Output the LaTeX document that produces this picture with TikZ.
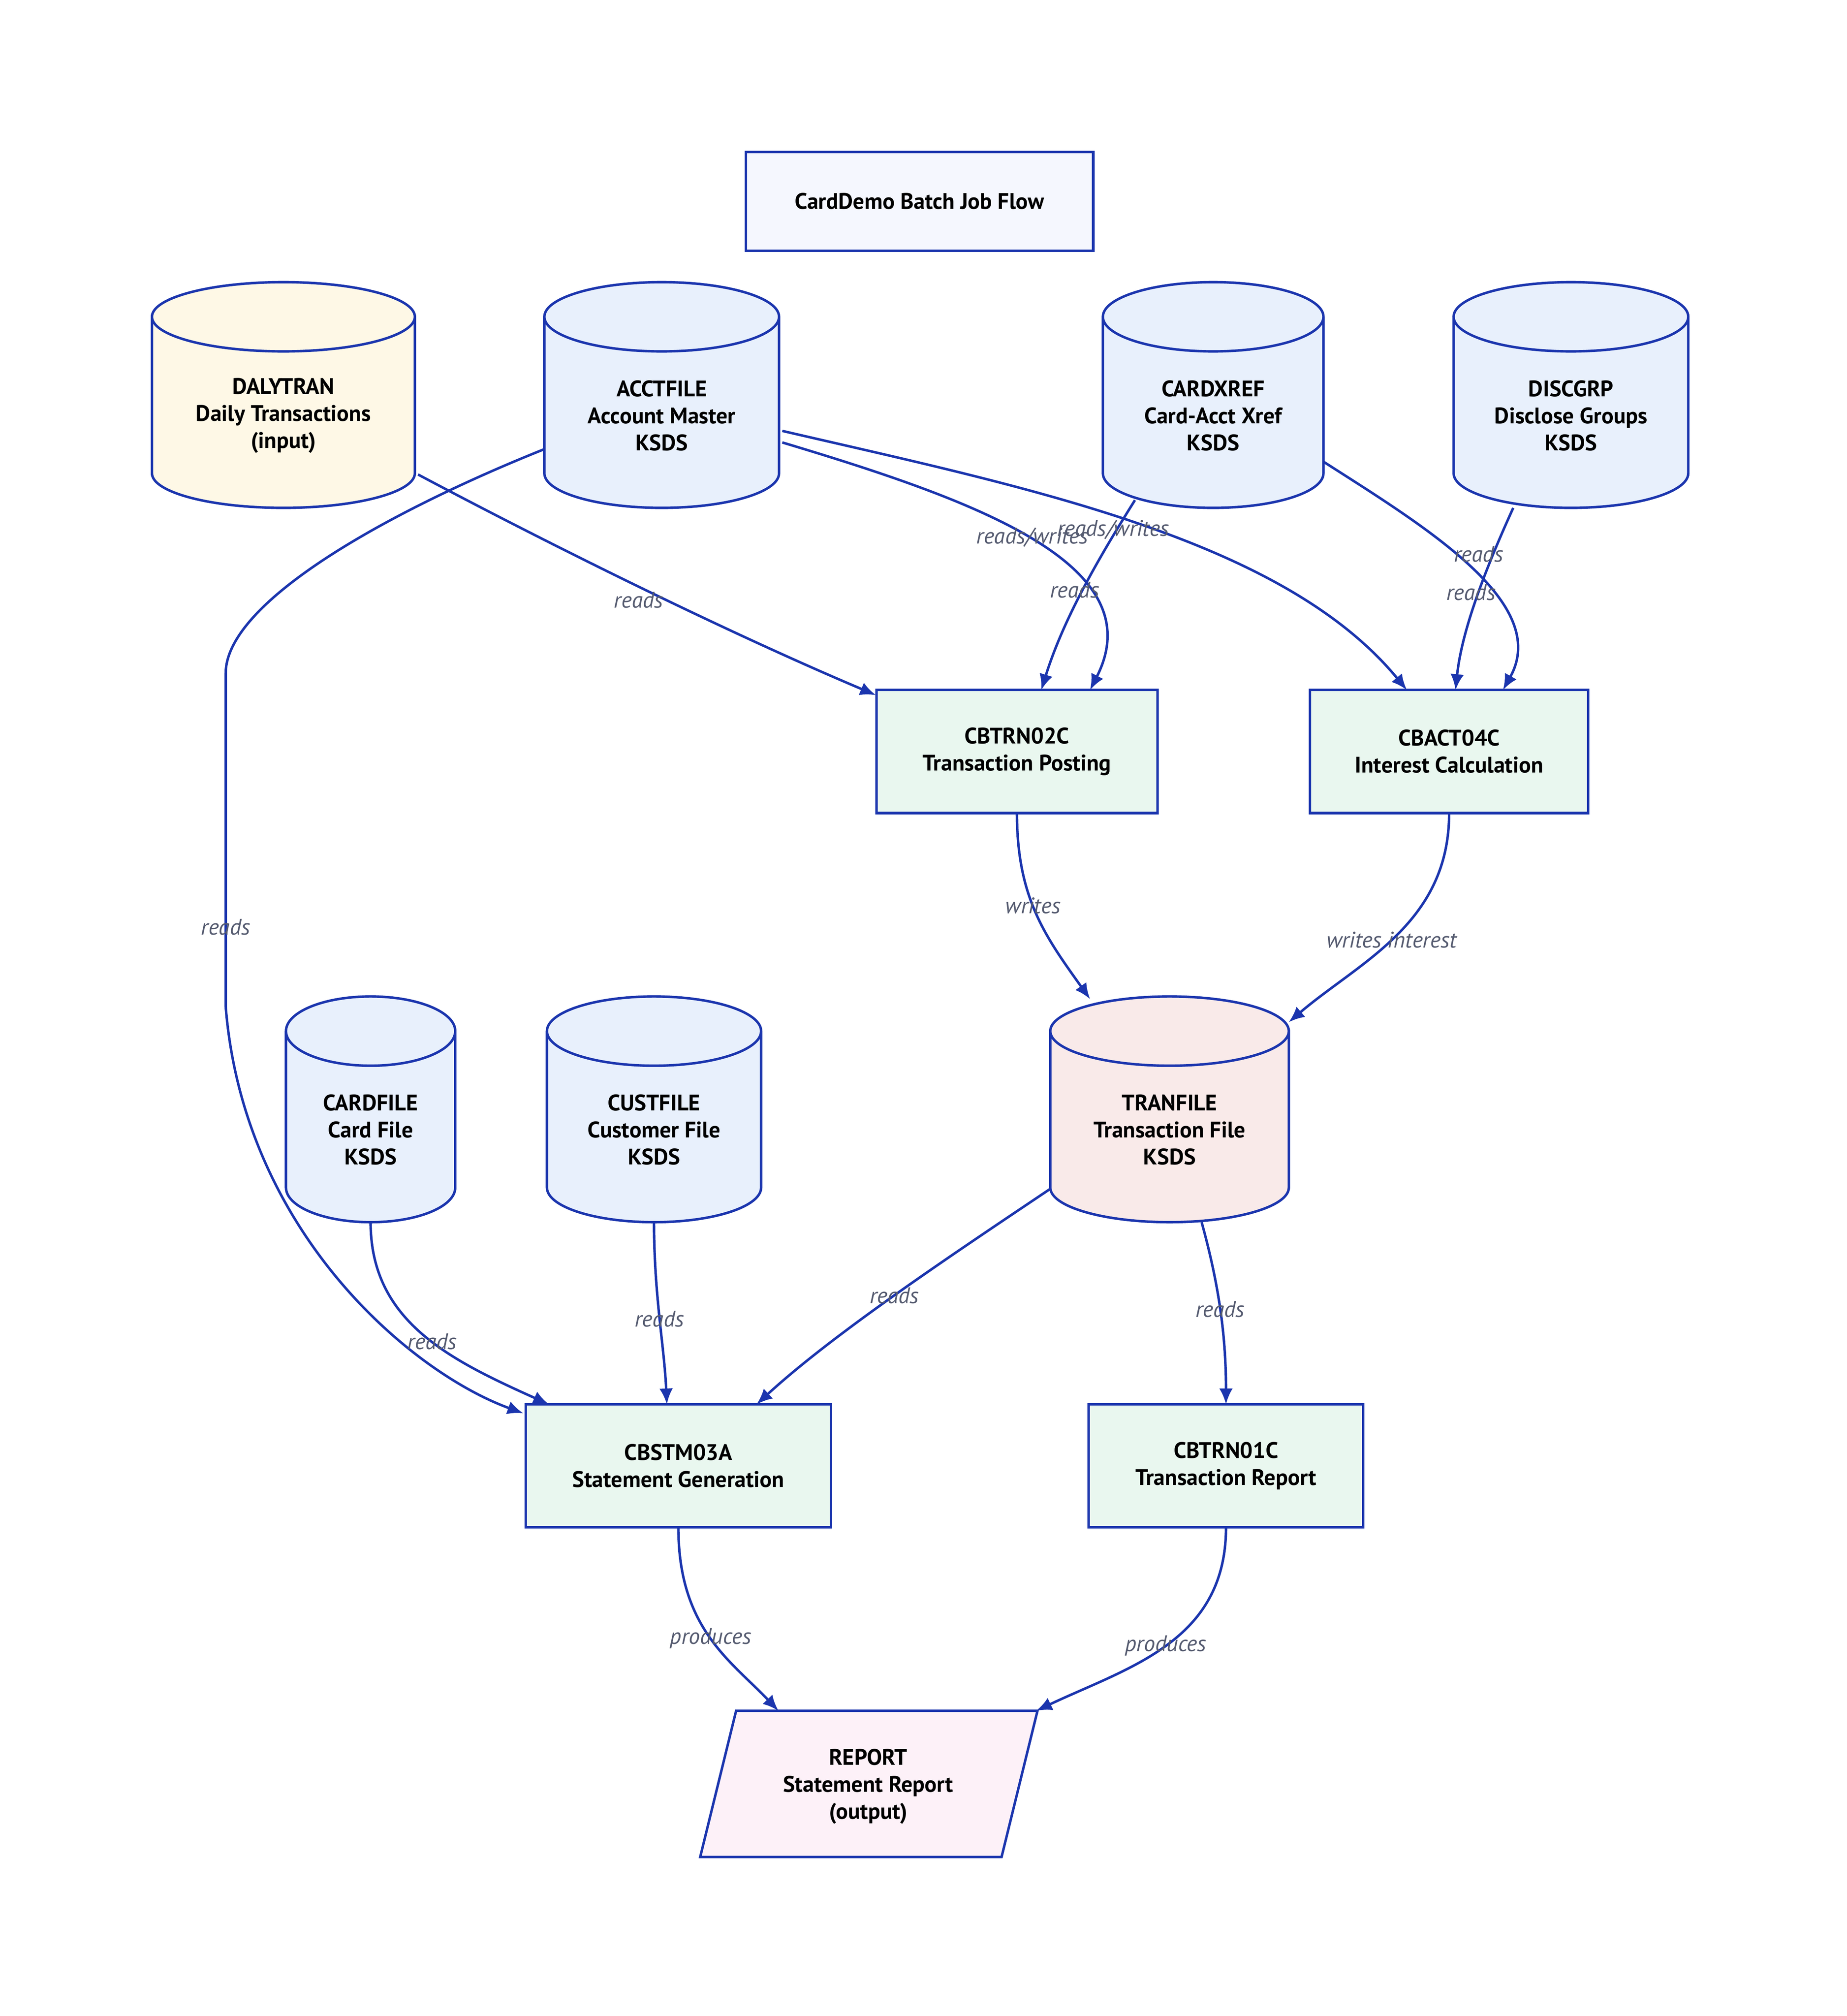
\documentclass[tikz,border=0pt]{standalone}
\usepackage{fontspec}
\setmainfont{PT Sans}
\usetikzlibrary{arrows.meta,calc}
\definecolor{stk}{HTML}{1B35AE}
\definecolor{fblue}{HTML}{E8F0FC}
\definecolor{fgreen}{HTML}{E9F7EF}
\definecolor{fcream}{HTML}{FEF8E6}
\definecolor{fred}{HTML}{F9EAE9}
\definecolor{fpink}{HTML}{FDF1F8}
\definecolor{ftitle}{HTML}{F5F7FE}
\definecolor{lbl}{HTML}{555B70}
\tikzset{
  txt/.style={font=\fontsize{10}{12}\selectfont\bfseries, align=center, text=black},
  proc/.style={draw=stk, line width=1.1pt, fill=fgreen, txt, minimum width=#1*0.02cm, minimum height=1.92cm},
  edge/.style={draw=stk, line width=1.1pt, -{Latex[length=7pt,width=6pt]}},
  elab/.style={font=\fontsize{10}{12}\selectfont\itshape, text=lbl}
}
\newcommand\cyl[7]{%
  \fill[#6] ({#2-#4/2},{#3-#5/2+27}) -- ({#2-#4/2},{#3+#5/2-27}) arc[start angle=180,end angle=0,x radius=#4/2,y radius=27]
     -- ({#2+#4/2},{#3-#5/2+27}) arc[start angle=0,end angle=-180,x radius=#4/2,y radius=27] -- cycle;
  \draw[stk, line width=1.1pt] ({#2-#4/2},{#3-#5/2+27}) -- ({#2-#4/2},{#3+#5/2-27}) arc[start angle=180,end angle=0,x radius=#4/2,y radius=27]
     -- ({#2+#4/2},{#3-#5/2+27}) arc[start angle=0,end angle=-180,x radius=#4/2,y radius=27] arc[start angle=180,end angle=0,x radius=#4/2,y radius=27];
  \node[minimum width=#4*0.02cm, minimum height=#5*0.02cm, inner sep=0pt] (#1) at (#2,#3) {};
  \node[txt] (#1t) at (#2,#3+16) {#7};
}
\begin{document}
\begin{tikzpicture}[x=0.02cm,y=-0.02cm]
\useasboundingbox (0,0) rectangle (1440,1572);
\fill[white] (0,0) rectangle (1440,1572);
\node[draw=stk, line width=1.1pt, fill=ftitle, txt, minimum width=271*0.02cm, minimum height=77*0.02cm] (title) at (717,157) {CardDemo Batch Job Flow};
\cyl{daly}{221}{308}{205}{176}{fcream}{DALYTRAN\\Daily Transactions\\(input)}
\cyl{acct}{516}{308}{183}{176}{fblue}{ACCTFILE\\Account Master\\KSDS}
\cyl{xref}{946}{308}{172}{176}{fblue}{CARDXREF\\Card-Acct Xref\\KSDS}
\cyl{disc}{1225}{308}{183}{176}{fblue}{DISCGRP\\Disclose Groups\\KSDS}
\cyl{card}{289}{865}{132}{176}{fblue}{CARDFILE\\Card File\\KSDS}
\cyl{cust}{510}{865}{167}{176}{fblue}{CUSTFILE\\Customer File\\KSDS}
\cyl{tran}{912}{865}{186}{176}{fred}{TRANFILE\\Transaction File\\KSDS}
\node[proc=219] (trn02) at (793,586) {CBTRN02C\\Transaction Posting};
\node[proc=217] (act04) at (1130,586) {CBACT04C\\Interest Calculation};
\node[proc=238] (stm03) at (529,1143) {CBSTM03A\\Statement Generation};
\node[proc=214] (trn01) at (956,1143) {CBTRN01C\\Transaction Report};
\node[inner sep=0pt, minimum width=263*0.02cm, minimum height=114*0.02cm] (rep) at (677,1391) {};
\draw[stk, line width=1.1pt, fill=fpink] (574,1334) -- (809,1334) -- (781,1448) -- (546,1448) -- cycle;
\node[txt] (rept) at (677,1393) {REPORT\\Statement Report\\(output)};
% edges
\draw[edge] ($(daly)+(105,62)$) .. controls (420,420) and (560,490) .. ($(trn02)+(-110,-44)$);
\draw[edge] ($(acct)+(94,37)$) .. controls (760,390) and (900,440) .. ($(trn02)+(57,-48)$);
\draw[edge] ($(acct)+(94,28)$) .. controls (800,380) and (1000,420) .. ($(act04)+(-33,-48)$);
\draw[edge] ($(xref)+(-61,82)$) .. controls (860,430) and (830,480) .. ($(trn02)+(19,-48)$);
\draw[edge] ($(xref)+(86,52)$) .. controls (1110,410) and (1210,470) .. ($(act04)+(42,-48)$);
\draw[edge] ($(disc)+(-45,88)$) .. controls (1160,440) and (1140,490) .. ($(act04)+(5,-48)$);
\draw[edge] ($(acct)+(-91,42)$) .. controls (300,400) and (176,470) .. (176,525) -- (176,785) .. controls (190,960) and (320,1070) .. ($(stm03)+(-121,-41)$);
\node[elab] (l1) at (498,468) {reads};
\node[elab] (l2) at (805,419) {reads/writes};
\node[elab] (l3) at (868,413) {reads/writes};
\node[elab] (l4) at (838,460) {reads};
\node[elab] (l5) at (1153,432) {reads};
\node[elab] (l6) at (1147,462) {reads};
\node[elab] (lacc) at (176,723) {reads};
\draw[edge] ($(trn02)+(0,48)$) .. controls (793,700) and (815,730) .. ($(tran)+(-62,-86)$) node[pos=0.45,elab]{writes};
\draw[edge] ($(act04)+(0,48)$) .. controls (1130,720) and (1060,750) .. ($(tran)+(93,-68)$) node[pos=0.52,elab]{writes interest};
\draw[edge] ($(card)+(0,88)$) .. controls (289,1030) and (350,1060) .. ($(stm03)+(-101,-48)$) node[pos=0.55,elab]{reads};
\draw[edge] ($(cust)+(0,88)$) .. controls (510,1010) and (518,1050) .. ($(stm03)+(-9,-48)$) node[pos=0.5,elab]{reads};
\draw[edge] ($(tran)+(-93,62)$) .. controls (740,980) and (650,1040) .. ($(stm03)+(61,-48)$) node[pos=0.5,elab]{reads};
\draw[edge] ($(tran)+(25,88)$) .. controls (950,1000) and (956,1040) .. ($(trn01)+(0,-48)$) node[pos=0.5,elab]{reads};
\draw[edge] ($(stm03)+(0,48)$) .. controls (529,1270) and (570,1295) .. ($(rep)+(-70,-57)$) node[pos=0.5,elab]{produces};
\draw[edge] ($(trn01)+(0,48)$) .. controls (956,1280) and (880,1300) .. ($(rep)+(131,-57)$) node[pos=0.5,elab]{produces};
\end{tikzpicture}
\end{document}
